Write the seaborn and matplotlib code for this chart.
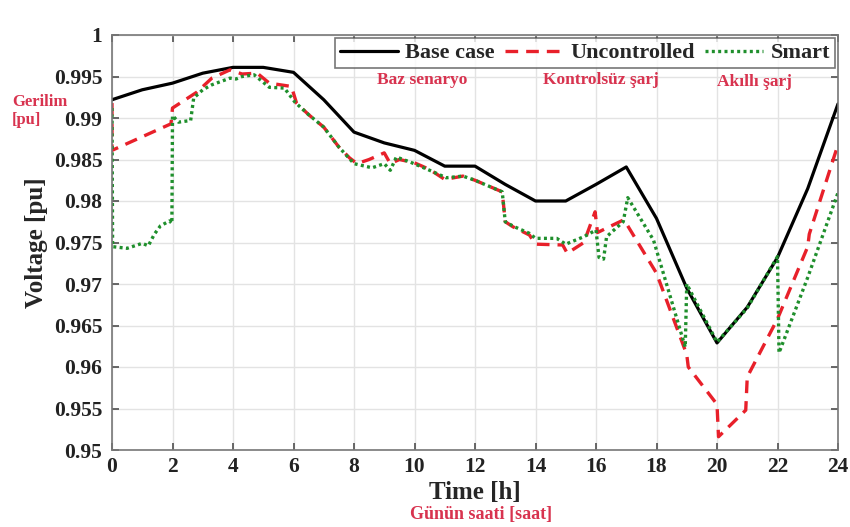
import numpy as np
import pandas as pd
import matplotlib
matplotlib.use('Agg')
import matplotlib.pyplot as plt
import seaborn as sns

# values (hour, voltage in pu)
base_t = [0, 1, 2, 3, 4, 5, 6, 7, 8, 9, 10, 11, 12, 13, 14, 15, 16, 17, 18, 19, 20, 21, 22, 23, 24]
base_v = [0.9922, 0.9934, 0.9942, 0.9954, 0.9961, 0.9961, 0.9955, 0.9922, 0.9883, 0.9870,
          0.9861, 0.9842, 0.9842, 0.9820, 0.9800, 0.9800, 0.9820, 0.9841, 0.9779, 0.9695,
          0.9629, 0.9672, 0.9732, 0.9815, 0.9917]

unc_t = [0, 0, 1.95, 2.0, 2.8, 3.3, 3.9, 4.3, 4.8, 5.2, 5.93, 6.1, 6.5, 7, 7.5, 7.85, 8.1,
         8.5, 9, 9.2, 9.5, 10, 10.5, 11, 11.6, 12, 12.9, 13, 13.25, 13.8, 14, 14.9, 15.05,
         15.6, 15.97, 16.05, 16.5, 16.9, 17, 18, 19, 19.05, 20, 20.05, 20.95, 21, 22, 23,
         23.05, 24]
unc_v = [0.9918, 0.9861, 0.9893, 0.9912, 0.9931, 0.9948, 0.9958, 0.9953, 0.9954, 0.9942,
         0.9938, 0.9918, 0.9904, 0.9889, 0.9865, 0.9852, 0.9845, 0.9850, 0.9858, 0.9845,
         0.9850, 0.9846, 0.9838, 0.9826, 0.9830, 0.9825, 0.9811, 0.9775, 0.9769, 0.9759,
         0.9748, 0.9747, 0.9737, 0.9750, 0.9787, 0.9762, 0.9770, 0.9777, 0.9773, 0.9713,
         0.9615, 0.9600, 0.9555, 0.9516, 0.9548, 0.9588, 0.9658, 0.9745, 0.9760, 0.9868]

smart_t = [0, 0.02, 0.5, 1, 1.2, 1.4, 1.6, 1.9, 1.98, 2.0, 2.2, 2.6, 2.7, 3.0, 3.3, 3.9,
           4.1, 4.3, 4.7, 5.2, 5.7, 6.05, 6.5, 7, 7.5, 8, 8.6, 9, 9.2, 9.4, 9.85, 10.5,
           11.05, 11.6, 12, 12.9, 13, 13.3, 13.8, 14, 14.7, 15, 15.6, 16, 16.1, 16.25,
           16.35, 16.9, 17.05, 17.9, 18.95, 19.0, 20, 21, 22, 22.05, 23, 24]
smart_v = [0.9912, 0.9745, 0.9743, 0.9749, 0.9746, 0.9760, 0.9770, 0.9776, 0.9773, 0.9903,
           0.9895, 0.9897, 0.9924, 0.9934, 0.9940, 0.9948, 0.9947, 0.9950, 0.9952, 0.9937,
           0.9936, 0.9919, 0.9904, 0.9889, 0.9865, 0.9845, 0.9840, 0.9845, 0.9837, 0.9853,
           0.9847, 0.9837, 0.9828, 0.9830, 0.9825, 0.9811, 0.9775, 0.9769, 0.9761, 0.9755,
           0.9755, 0.9748, 0.9757, 0.9765, 0.9732, 0.9730, 0.9757, 0.9775, 0.9804, 0.9753,
           0.9624, 0.9700, 0.9630, 0.9671, 0.9733, 0.9617, 0.9708, 0.9810]

x_ticks = list(range(0, 25, 2))
y_ticks = [0.95, 0.955, 0.96, 0.965, 0.97, 0.975, 0.98, 0.985, 0.99, 0.995, 1]
y_tick_labels = ['0.95', '0.955', '0.96', '0.965', '0.97', '0.975', '0.98', '0.985', '0.99', '0.995', '1']

sns.set_theme(style='whitegrid')
plt.rcParams['font.family'] = ['Liberation Serif', 'DejaVu Serif']
plt.rcParams['font.weight'] = 'bold'

red = '#e8202a'
green = '#1f8f2c'
note = '#d8334f'

fig = plt.figure(figsize=(8.5, 5.27), dpi=100)
ax = fig.add_axes([112 / 850, 1 - 450 / 527, 726 / 850, 415 / 527])

sns.lineplot(x=base_t, y=base_v, ax=ax, color='black', linewidth=2.3,
             sort=False, estimator=None, label='Base case')
sns.lineplot(x=unc_t, y=unc_v, ax=ax, color=red, linewidth=2.4,
             sort=False, estimator=None, label='Uncontrolled')
sns.lineplot(x=smart_t, y=smart_v, ax=ax, color=green, linewidth=2.4,
             sort=False, estimator=None, label='Smart')
ax.lines[1].set_dashes([3.8, 2.4])
ax.lines[2].set_dashes([0.9, 1.0])

ax.set_xlim(0, 24)
ax.set_ylim(0.95, 1.0)
ax.set_xticks(x_ticks)
ax.set_yticks(y_ticks)
ax.set_yticklabels(y_tick_labels)
ax.tick_params(axis='both', labelsize=15.5, direction='in', length=5, color='#555555',
               top=True, right=True, bottom=True, left=True)
ax.tick_params(axis='y', pad=7)
ax.tick_params(axis='x', pad=5)
for lab in ax.get_xticklabels() + ax.get_yticklabels():
    lab.set_fontweight('bold')
    lab.set_color('#222222')
ax.grid(True, color='#e3e3e3', linewidth=1.0)
for sp in ax.spines.values():
    sp.set_color('#777777')
    sp.set_linewidth(1.2)

ax.set_xlabel('Time [h]', fontsize=18, fontweight='bold', labelpad=3)
ax.set_ylabel('Voltage [pu]', fontsize=18, fontweight='bold', labelpad=4)

leg = ax.legend(loc='upper right', ncol=3, fontsize=16, frameon=True, fancybox=False,
                handlelength=2.6, columnspacing=0.45, handletextpad=0.35,
                borderpad=0.2, borderaxespad=0.15)
leg.get_frame().set_edgecolor('#555555')
leg.get_frame().set_linewidth(1.2)
for t in leg.get_texts():
    t.set_fontweight('bold')

fig.text(377 / 850, 1 - 80 / 527, 'Baz senaryo', color=note, fontsize=12.5,
         fontweight='bold', va='center')
fig.text(543 / 850, 1 - 80 / 527, 'Kontrolsüz şarj', color=note, fontsize=12.5,
         fontweight='bold', va='center')
fig.text(717 / 850, 1 - 82 / 527, 'Akıllı şarj', color=note, fontsize=12.5,
         fontweight='bold', va='center')
fig.text(12 / 850, 1 - 111 / 527, 'Gerilim\n[pu]', color=note, fontsize=12,
         fontweight='bold', va='center', linespacing=1.1)
fig.text(481 / 850, 1 - 515 / 527, 'Günün saati [saat]', color=note, fontsize=13,
         fontweight='bold', ha='center', va='center')

fig.savefig('out.png', dpi=100)
